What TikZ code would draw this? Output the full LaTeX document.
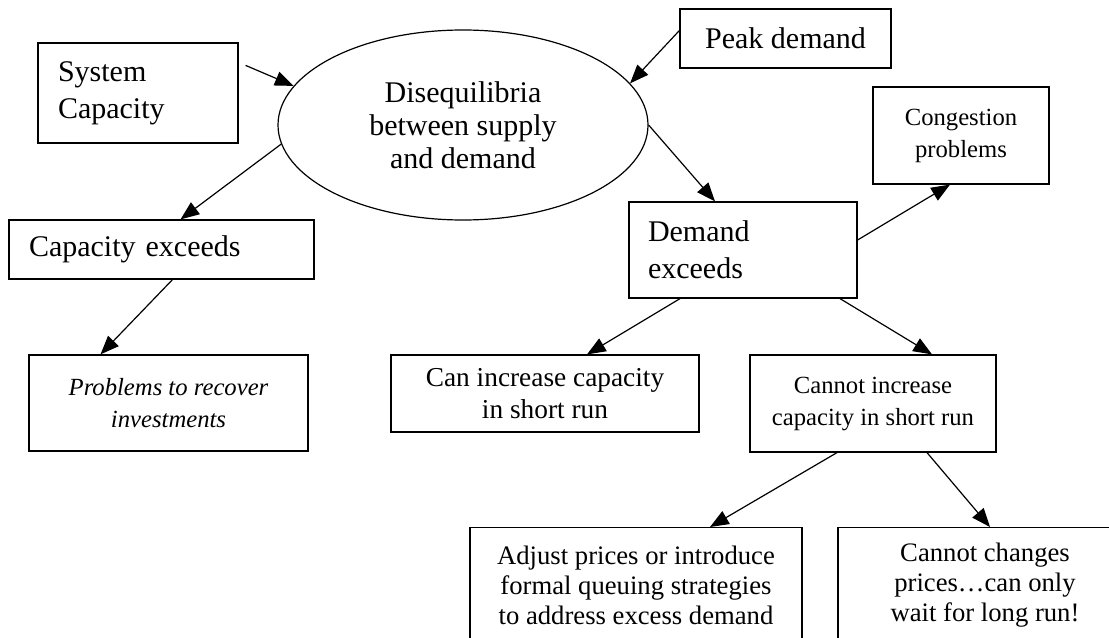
\documentclass[tikz,border=0pt]{standalone}
\usepackage{fontspec}
\setmainfont{Liberation Serif}
\usepackage{tikz}
\usetikzlibrary{arrows.meta,positioning,calc,shapes.geometric}
\tikzset{
  >={Triangle[length=14pt,width=11pt]},
  box/.style={draw, line width=0.9pt, rectangle, inner sep=0pt, align=center,
    font=\fontsize{18.5}{24}\selectfont},
  bigbox/.style={box, font=\fontsize{22.5}{27.75}\selectfont},
  leftbox/.style={bigbox, align=left, inner xsep=15pt},
  lowbox/.style={box, minimum height=86pt, font=\fontsize{20}{22.5}\selectfont},
  oval/.style={draw, line width=0.9pt, ellipse, inner sep=0pt, align=center,
    minimum width=277.5pt, minimum height=142.5pt,
    font=\fontsize{22.5}{24.75}\selectfont},
  conn/.style={->, line width=0.9pt},
}

\begin{document}
\begin{tikzpicture}[x=0.75pt,y=-0.75pt]
    \useasboundingbox (0,0) rectangle (1109,638);
    \clip (0,0) rectangle (1109,638);
    % top row
    \node[leftbox, text width=120pt, minimum height=75pt] (sys) at (138,93) {System\\Capacity};
    \node[oval] (ell) at (463,125) {Disequilibria\\between supply\\and demand};
    \node[bigbox, minimum width=158.25pt, minimum height=44.25pt] (peak) at (785.5,38.5) {Peak demand};
    \node[box, minimum width=132pt, minimum height=72.75pt] (cong) at (961,135.5) {Congestion\\problems};

    % middle row
    \node[leftbox, text width=198.75pt, minimum height=44.25pt] (capex) at (161.5,249.5) {Capacity exceeds};
    \node[leftbox, text width=142.5pt, minimum height=72pt, inner xsep=14.25pt] (dem) at (743,250) {Demand\\exceeds};

    \node[box, minimum width=209.25pt, minimum height=72pt, font=\fontsize{18.5}{24}\selectfont\itshape]
      (prob) at (168.5,403) {Problems to recover\\investments};
    \node[box, minimum width=231pt, minimum height=57.75pt, font=\fontsize{20.5}{24}\selectfont]
      (can) at (545,393.5) {Can increase capacity\\in short run};
    \node[box, minimum width=184.5pt, minimum height=72.75pt] (cannot) at (873,403.5) {Cannot increase\\capacity in short run};

    % bottom row, cut by the lower edge
    \node[lowbox, minimum width=249pt, anchor=north] (adj) at (636,527)
      {Adjust prices or introduce\\formal queuing strategies\\to address excess demand};
    \node[lowbox, minimum width=220.5pt, anchor=north] (wait) at (985,527)
      {Cannot changes\\prices\ldots can only\\wait for long run!};

    \draw[conn] ($(sys.north east)+(7,23)$) -- (ell.167);
    \draw[conn] ($(peak.west)+(0,-8)$) -- (ell.14);
    \draw[conn] (ell.186) -- ($(capex.north)+(19,0)$);
    \draw[conn] (ell.east) -- ($(dem.north)+(-28,0)$);
    \draw[conn] ($(dem.east)+(0,-10)$) -- ($(cong.south)+(-11,0)$);
    \draw[conn] ($(capex.south)+(11,0)$) -- ($(prob.north)+(-68,0)$);
    \draw[conn] ($(dem.south)+(-63,0)$) -- ($(can.north)+(42,0)$);
    \draw[conn] ($(dem.south)+(97,0)$) -- ($(cannot.north)+(59,0)$);
    \draw[conn] ($(cannot.south)+(-36,0)$) -- ($(adj.north)+(74,0)$);
    \draw[conn] ($(cannot.south)+(54,0)$) -- ($(wait.north)+(5,0)$);
\end{tikzpicture}
\end{document}
